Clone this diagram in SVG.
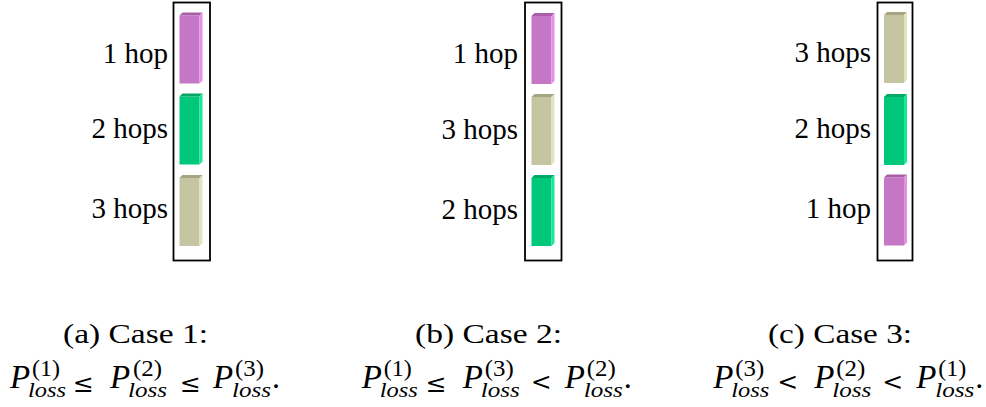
<svg xmlns="http://www.w3.org/2000/svg" xmlns:xlink="http://www.w3.org/1999/xlink" width="986" height="407" viewBox="0 0 986 407">
<style>
  .box{fill:none;stroke:#000;stroke-width:1.8}
  text{font-family:'Liberation Serif','Times New Roman','DejaVu Serif',serif;fill:#000}
  .lbl{font-size:29px;text-anchor:end}
  .cap{font-size:27px}
  .P{font-style:italic;font-size:33px}
  .sup{font-size:23px}
  .sub{font-style:italic;font-size:20px}
  .rel{font-family:'DejaVu Serif',serif;font-size:25px}
  .dot{font-size:32px}
</style>
<defs>
  <g id="barP">
    <rect x="0" y="0" width="20" height="68" fill="#C577C5"/>
    <polygon points="0,0 3,-3 23,-3 20,0" fill="#A85FA8"/>
    <polygon points="20,0 23,-3 23,65 20,68" fill="#E58FE5"/>
  </g>
  <g id="barG">
    <rect x="0" y="0" width="20" height="68" fill="#00C87A"/>
    <polygon points="0,0 3,-3 23,-3 20,0" fill="#00A864"/>
    <polygon points="20,0 23,-3 23,65 20,68" fill="#19E896"/>
  </g>
  <g id="barK">
    <rect x="0" y="0" width="20" height="68" fill="#C5C5A1"/>
    <polygon points="0,0 3,-3 23,-3 20,0" fill="#A6A684"/>
    <polygon points="20,0 23,-3 23,65 20,68" fill="#E3E3C0"/>
  </g>
</defs>

<!-- Panel a -->
<g id="panel-a">
  <rect class="box" x="173.5" y="2.5" width="36.5" height="258"/>
  <g id="a-hop1"><use xlink:href="#barP" x="179.5" y="15.5"/><text class="lbl" x="168" y="63">1 hop</text></g>
  <g id="a-hop2"><use xlink:href="#barG" x="179.5" y="96.5"/><text class="lbl" x="168" y="138">2 hops</text></g>
  <g id="a-hop3"><use xlink:href="#barK" x="179.5" y="178"/><text class="lbl" x="168" y="218">3 hops</text></g>
</g>

<!-- Panel b -->
<g id="panel-b">
  <rect class="box" x="525" y="2.5" width="36.5" height="258"/>
  <g id="b-hop1"><use xlink:href="#barP" x="531.5" y="16"/><text class="lbl" x="518" y="63">1 hop</text></g>
  <g id="b-hop3"><use xlink:href="#barK" x="531.5" y="97"/><text class="lbl" x="518" y="139">3 hops</text></g>
  <g id="b-hop2"><use xlink:href="#barG" x="531.5" y="178"/><text class="lbl" x="518" y="219">2 hops</text></g>
</g>

<!-- Panel c -->
<g id="panel-c">
  <rect class="box" x="877.5" y="2.5" width="35" height="258"/>
  <g id="c-hop3"><use xlink:href="#barK" x="884" y="15"/><text class="lbl" x="871" y="62">3 hops</text></g>
  <g id="c-hop2"><use xlink:href="#barG" x="884" y="97"/><text class="lbl" x="871" y="138">2 hops</text></g>
  <g id="c-hop1"><use xlink:href="#barP" x="884" y="177.5"/><text class="lbl" x="871" y="218">1 hop</text></g>
</g>

<!-- Caption a -->
<g id="caption-a">
  <text class="cap" x="63" y="343" textLength="145" lengthAdjust="spacingAndGlyphs">(a) Case 1:</text>
  <g transform="translate(10,0)">
    <text class="P" x="0" y="388">P</text>
    <text class="sup" x="22" y="376" textLength="28" lengthAdjust="spacingAndGlyphs">(1)</text>
    <text class="sub" x="18" y="397" textLength="38" lengthAdjust="spacingAndGlyphs">loss</text>
    <text class="rel" x="63" y="392">≤</text>
    <text class="P" x="100" y="388">P</text>
    <text class="sup" x="123" y="376" textLength="29" lengthAdjust="spacingAndGlyphs">(2)</text>
    <text class="sub" x="118" y="397" textLength="39" lengthAdjust="spacingAndGlyphs">loss</text>
    <text class="rel" x="170" y="392">≤</text>
    <text class="P" x="203" y="388">P</text>
    <text class="sup" x="225" y="376" textLength="29" lengthAdjust="spacingAndGlyphs">(3)</text>
    <text class="sub" x="222" y="397" textLength="39" lengthAdjust="spacingAndGlyphs">loss</text>
    <text class="dot" x="262" y="388">.</text>
  </g>
</g>

<!-- Caption b -->
<g id="caption-b">
  <text class="cap" x="415" y="343" textLength="147" lengthAdjust="spacingAndGlyphs">(b) Case 2:</text>
  <g transform="translate(361.7,0)">
    <text class="P" x="0" y="388">P</text>
    <text class="sup" x="22" y="376" textLength="28" lengthAdjust="spacingAndGlyphs">(1)</text>
    <text class="sub" x="18" y="397" textLength="38" lengthAdjust="spacingAndGlyphs">loss</text>
    <text class="rel" x="64" y="392">≤</text>
    <text class="P" x="101" y="388">P</text>
    <text class="sup" x="123" y="376" textLength="29" lengthAdjust="spacingAndGlyphs">(3)</text>
    <text class="sub" x="119" y="397" textLength="39" lengthAdjust="spacingAndGlyphs">loss</text>
    <text class="rel" x="169" y="390">&lt;</text>
    <text class="P" x="203" y="388">P</text>
    <text class="sup" x="225" y="376" textLength="29" lengthAdjust="spacingAndGlyphs">(2)</text>
    <text class="sub" x="222" y="397" textLength="39" lengthAdjust="spacingAndGlyphs">loss</text>
    <text class="dot" x="262" y="388">.</text>
  </g>
</g>

<!-- Caption c -->
<g id="caption-c">
  <text class="cap" x="768" y="343" textLength="144" lengthAdjust="spacingAndGlyphs">(c) Case 3:</text>
  <g transform="translate(713.3,0)">
    <text class="P" x="0" y="388">P</text>
    <text class="sup" x="22" y="376" textLength="29" lengthAdjust="spacingAndGlyphs">(3)</text>
    <text class="sub" x="18" y="397" textLength="38" lengthAdjust="spacingAndGlyphs">loss</text>
    <text class="rel" x="64" y="390">&lt;</text>
    <text class="P" x="101" y="388">P</text>
    <text class="sup" x="123" y="376" textLength="29" lengthAdjust="spacingAndGlyphs">(2)</text>
    <text class="sub" x="119" y="397" textLength="39" lengthAdjust="spacingAndGlyphs">loss</text>
    <text class="rel" x="169" y="390">&lt;</text>
    <text class="P" x="203" y="388">P</text>
    <text class="sup" x="225" y="376" textLength="28" lengthAdjust="spacingAndGlyphs">(1)</text>
    <text class="sub" x="222" y="397" textLength="39" lengthAdjust="spacingAndGlyphs">loss</text>
    <text class="dot" x="262" y="388">.</text>
  </g>
</g>

<g id="connectors"></g>
</svg>
